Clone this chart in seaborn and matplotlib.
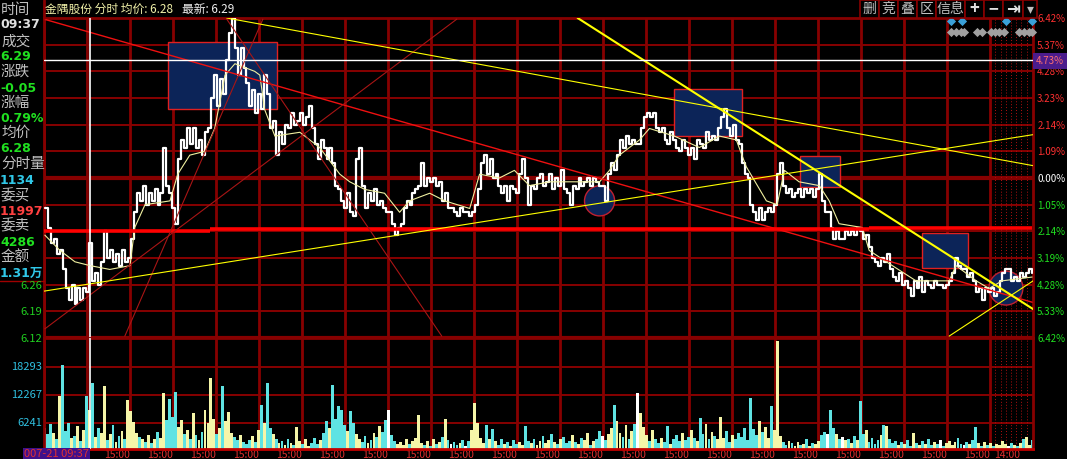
import numpy as np
import pandas as pd
import seaborn as sns
import matplotlib.pyplot as plt
from matplotlib.patches import Rectangle, Ellipse
from matplotlib.lines import Line2D

# ============================================================
# Data (price in yuan, volume in lots)
# ============================================================

# tick-by-tick price, evenly spaced over 23 trading sessions
price = [
    6.46, 6.41, 6.37, 6.38, 6.34, 6.35, 6.30, 6.25, 6.22, 6.26,
    6.21, 6.25, 6.22, 6.25, 6.24, 6.37, 6.27, 6.29, 6.26, 6.32,
    6.40, 6.33, 6.35, 6.32, 6.34, 6.31, 6.35, 6.32, 6.33, 6.38,
    6.45, 6.50, 6.48, 6.52, 6.47, 6.50, 6.48, 6.51, 6.47, 6.50,
    6.62, 6.52, 6.50, 6.46, 6.42, 6.59, 6.64, 6.62, 6.67, 6.63,
    6.67, 6.62, 6.64, 6.60, 6.66, 6.67, 6.75, 6.81, 6.73, 6.80,
    6.76, 6.85, 6.92, 6.96, 6.88, 6.81, 6.88, 6.83, 6.79, 6.73,
    6.77, 6.71, 6.76, 6.72, 6.81, 6.76, 6.67, 6.69, 6.60, 6.66,
    6.63, 6.68, 6.67, 6.71, 6.68, 6.69, 6.71, 6.68, 6.70, 6.73,
    6.67, 6.63, 6.59, 6.64, 6.62, 6.59, 6.62, 6.58, 6.52, 6.51,
    6.48, 6.46, 6.50, 6.45, 6.44, 6.59, 6.62, 6.52, 6.46, 6.50,
    6.48, 6.51, 6.47, 6.48, 6.46, 6.45, 6.45, 6.42, 6.39, 6.41,
    6.42, 6.46, 6.48, 6.47, 6.50, 6.51, 6.52, 6.58, 6.52, 6.54,
    6.53, 6.54, 6.52, 6.53, 6.48, 6.50, 6.46, 6.46, 6.45, 6.44,
    6.46, 6.45, 6.45, 6.44, 6.45, 6.47, 6.51, 6.58, 6.60, 6.55,
    6.59, 6.54, 6.55, 6.52, 6.50, 6.52, 6.48, 6.52, 6.51, 6.50,
    6.55, 6.59, 6.54, 6.47, 6.52, 6.51, 6.54, 6.55, 6.52, 6.53,
    6.55, 6.51, 6.54, 6.52, 6.56, 6.51, 6.50, 6.47, 6.52, 6.51,
    6.54, 6.52, 6.53, 6.54, 6.52, 6.54, 6.53, 6.52, 6.52, 6.48,
    6.55, 6.58, 6.56, 6.60, 6.64, 6.62, 6.65, 6.63, 6.64, 6.63,
    6.63, 6.67, 6.70, 6.71, 6.70, 6.71, 6.67, 6.66, 6.67, 6.64,
    6.63, 6.66, 6.64, 6.62, 6.61, 6.64, 6.62, 6.60, 6.62, 6.59,
    6.64, 6.63, 6.62, 6.66, 6.64, 6.65, 6.64, 6.67, 6.70, 6.72,
    6.67, 6.65, 6.68, 6.64, 6.63, 6.58, 6.55, 6.54, 6.47, 6.45,
    6.43, 6.46, 6.43, 6.45, 6.46, 6.45, 6.47, 6.55, 6.58, 6.52,
    6.50, 6.51, 6.49, 6.50, 6.51, 6.49, 6.51, 6.50, 6.51, 6.49,
    6.51, 6.55, 6.48, 6.45, 6.45, 6.41, 6.38, 6.40, 6.38, 6.38,
    6.40, 6.39, 6.40, 6.39, 6.41, 6.40, 6.38, 6.39, 6.36, 6.33,
    6.32, 6.31, 6.33, 6.32, 6.34, 6.30, 6.28, 6.27, 6.29, 6.26,
    6.27, 6.25, 6.23, 6.27, 6.25, 6.28, 6.24, 6.27, 6.26, 6.25,
    6.27, 6.26, 6.26, 6.25, 6.26, 6.27, 6.29, 6.33, 6.31, 6.30,
    6.30, 6.28, 6.29, 6.27, 6.24, 6.25, 6.22, 6.25, 6.24, 6.25,
    6.23, 6.24, 6.27, 6.29, 6.30, 6.30, 6.27, 6.28, 6.27, 6.29,
    6.28, 6.29, 6.30, 6.29,
]

volume = [
    5200, 3800, 6100, 4200, 2800, 12000, 18700, 4500, 6200, 3100,
    3500, 5600, 2400, 4800, 12000, 9000, 14800, 3200, 5100, 4000,
    14200, 2600, 3900, 5800, 2100, 3400, 4600, 2900, 11200, 8800,
    6500, 4100, 3300, 2700, 2200, 3600, 1900, 2800, 4300, 3100,
    12700, 6800, 11400, 7600, 12900, 5400, 6900, 3800, 4700, 2900,
    8400, 3600, 2500, 4400, 9000, 6200, 15900, 7100, 3900, 5200,
    14200, 6600, 8600, 4100, 3200, 2500, 3700, 2200, 1800, 2600,
    3400, 2100, 4800, 10100, 6300, 14800, 5200, 3900, 2700, 1900,
    2400, 1600, 2900, 2000, 1500, 5400, 2300, 1700, 2800, 1400,
    2000, 3100, 1800, 2500, 4200, 6600, 5100, 14400, 7200, 9900,
    9000, 5800, 4600, 8800, 6300, 3900, 2800, 2100, 3500, 1900,
    2600, 4100, 3300, 5700, 4400, 6800, 9000, 3600, 2400, 1800,
    2200, 1500, 2900, 1700, 2400, 3100, 8000, 2000, 1600, 2300,
    1400, 2700, 1800, 2100, 3300, 7100, 2500, 1700, 2200, 1500,
    1900, 2600, 1300, 2400, 4800, 10500, 6200, 3100, 2000, 5800,
    2700, 5000, 2300, 1600, 2900, 1800, 2200, 1400, 2600, 1700,
    2100, 1500, 5600, 2400, 1900, 2800, 1600, 2300, 3500, 2000,
    2600, 3800, 2200, 1700, 2900, 3200, 1900, 2400, 3700, 2100,
    1800, 3000, 2500, 4200, 1600, 2300, 2800, 4600, 3400, 2600,
    3900, 5200, 10100, 6700, 4100, 3300, 5800, 2900, 4500, 6100,
    12700, 8400, 5300, 3600, 2400, 4800, 2700, 1900, 3100, 2200,
    5600, 1800, 2900, 3600, 2300, 4100, 2600, 3300, 4700, 3000,
    2400, 7300, 3800, 6000, 2900, 4400, 3500, 2700, 7500, 3100,
    4600, 2200, 3700, 2800, 4200, 3300, 5100, 2600, 11600, 4900,
    3600, 6700, 4300, 5400, 3000, 9900, 4700, 23800, 3400, 2100,
    1600, 2400, 1900, 1300, 2200, 1500, 1800, 2700, 1400, 2000,
    1700, 2300, 3600, 4400, 3900, 9000, 5100, 3800, 2700, 3300,
    2500, 2900, 2000, 3400, 2600, 11000, 3800, 4800, 2200, 3100,
    1800, 2500, 3700, 5800, 5500, 2800, 1900, 2400, 1500, 2200,
    1700, 2600, 1400, 4200, 2000, 1600, 2300, 1800, 2900, 1500,
    2100, 1700, 2500, 1300, 1900, 2400, 1600, 2200, 3000, 1800,
    1500, 2200, 1700, 2600, 5400, 1900, 1400, 2100, 1600, 2000,
    1300, 1800, 1500, 2300, 1700, 1200, 2000, 1600, 1400, 1900,
    2800, 3300, 1500, 2600,
]

# running average price (session, price)
avg_x = [0.02, 0.37, 0.72, 1.07, 1.53, 2.00, 2.11, 2.35, 2.93, 3.11,
         3.39, 3.74, 3.97, 4.21, 4.44, 4.90, 5.02, 5.13, 5.37, 5.95,
         6.41, 6.88, 7.11, 7.46, 7.92, 8.27, 8.50, 8.97, 9.32, 9.90,
         10.13, 10.59, 10.94, 11.29, 11.76, 12.92, 13.15, 13.38, 13.85, 14.08,
         14.66, 15.24, 15.71, 16.10, 16.33, 16.80, 17.05, 17.22, 17.56, 18.03,
         18.26, 18.49, 19.03, 19.19, 19.59, 20.28, 21.05, 21.21, 21.68, 21.98,
         22.28, 22.98]
avg_price = [6.39, 6.35, 6.32, 6.31, 6.30, 6.31, 6.41, 6.47, 6.48, 6.55,
             6.60, 6.61, 6.67, 6.81, 6.84, 6.82, 6.81, 6.72, 6.65, 6.66,
             6.62, 6.55, 6.53, 6.51, 6.50, 6.45, 6.48, 6.50, 6.48, 6.46,
             6.55, 6.54, 6.56, 6.52, 6.53, 6.53, 6.56, 6.60, 6.64, 6.67,
             6.65, 6.62, 6.65, 6.64, 6.57, 6.48, 6.47, 6.56, 6.53, 6.52,
             6.48, 6.42, 6.41, 6.35, 6.32, 6.27, 6.27, 6.31, 6.27, 6.25,
             6.27, 6.28]

prev_close = 6.54
cursor_x, cursor_price = 1.07, 6.85
price_levels = [6.12, 6.19, 6.26, 6.33, 6.40, 6.47, 6.54, 6.61, 6.68, 6.75, 6.82, 6.89, 6.96]
pct_labels = ["6.42%", "5.33%", "4.28%", "3.19%", "2.14%", "1.05%", "0.00%",
              "1.09%", "2.14%", "3.23%", "4.28%", "5.37%", "6.42%"]
left_price_labels = ["6.26", "6.19", "6.12"]
vol_levels = [6241, 12267, 18293]
session_ticks = list(range(2, 23)) + [22.7]
time_labels = ["15:00"] * 21 + ["14:00"]
last_day_dots = [22.12, 22.26, 22.38, 22.49, 22.61, 22.73, 22.87]

# left info panel: (text, kind)
info_rows = [("时间", "name"), ("09:37", "time"), ("成交", "name"), ("6.29", "green"),
             ("涨跌", "name"), ("-0.05", "green"), ("涨幅", "name"), ("0.79%", "green"),
             ("均价", "name"), ("6.28", "green"), ("分时量", "name"), ("1134", "cyan"),
             ("委买", "name"), ("11997", "red"), ("委卖", "name"), ("4286", "green"),
             ("金额", "name"), ("1.31万", "cyan")]

# user drawings on the chart (session, price)
boxes = [(2.88, 5.41, 6.721, 6.897), (14.64, 16.24, 6.650, 6.774),
         (17.59, 18.52, 6.516, 6.598), (20.42, 21.49, 6.304, 6.396)]
circles = [(12.92, 6.480, 0.70, 0.079), (22.37, 6.251, 0.79, 0.089)]
red_trend = ([0.0, 22.98], [6.957, 6.214])
support = [([0.0, 3.86], [6.402, 6.402]), ([3.86, 19.19], [6.405, 6.405]),
           ([19.19, 22.98], [6.410, 6.410])]
thin_red = [([0.02, 9.60], [6.144, 6.957]), ([1.88, 5.09], [6.125, 6.957]),
            ([4.25, 9.25], [6.957, 6.125])]
yellow_thin = [([4.25, 23.07], [6.960, 6.571]), ([0.0, 23.07], [6.243, 6.655]),
               ([21.05, 23.07], [6.125, 6.275])]
yellow_thick = ([12.41, 23.07], [6.960, 6.191])
blue_marks = [21.10, 21.35, 22.37, 22.98]
gray_marks = [21.10, 21.21, 21.33, 21.40, 21.70, 21.82, 22.03, 22.12,
              22.21, 22.33, 22.68, 22.79, 22.91, 22.98]

# ============================================================
# Figure
# ============================================================
sns.set_theme(style="dark", rc={"axes.facecolor": "black", "figure.facecolor": "black"})
plt.rcParams['font.family'] = ['Noto Sans CJK SC', 'DejaVu Sans']

W, H = 1067, 459
GRID = '#870000'
fig = plt.figure(figsize=(W / 100, H / 100), dpi=100)
fig.patch.set_facecolor('black')


def fx(x):
    return x / W


def fy(y):
    return 1 - y / H


ax = fig.add_axes([fx(44), fy(338), 989 / W, 320 / H])
axv = fig.add_axes([fx(44), fy(449), 989 / W, 111 / H])
for a in (ax, axv):
    a.set_facecolor('black')
    a.set_xlim(0, 23)
    a.grid(False)
    for s in a.spines.values():
        s.set_color(GRID)
        s.set_linewidth(2)
        s.set_visible(True)

ax.set_ylim(6.12, 6.96)
axv.set_ylim(650, 24535)

# grid
for lv in price_levels:
    lw = 3 if lv in (prev_close, 6.12) else 1.4
    ax.axhline(lv, color=GRID, lw=lw, zorder=1)
for lv in vol_levels:
    axv.axhline(lv, color=GRID, lw=1.4, zorder=1)
for a in (ax, axv):
    for s in range(0, 23):
        a.axvline(s, color=GRID, lw=2, zorder=1)
    for d in last_day_dots:
        a.axvline(d, color='#b01010', lw=0.7, ls=(0, (1, 2)), zorder=1)

# boxes and circles drawn under the price
for x0, x1, y0, y1 in boxes:
    ax.add_patch(Rectangle((x0, y0), x1 - x0, y1 - y0, facecolor='#0c2458',
                           edgecolor='#e02020', lw=1, zorder=2))
for cx, cy, w, h in circles:
    ax.add_patch(Ellipse((cx, cy), w, h, facecolor='#0c2458',
                         edgecolor='#c02030', lw=1, zorder=2))

# price and average
t = np.linspace(0.02, 22.98, len(price))
df = pd.DataFrame({"t": t, "price": price, "volume": volume})
sns.lineplot(data=df, x="t", y="price", ax=ax, color='white', lw=1.6,
             drawstyle='steps-post', estimator=None, sort=False, zorder=3)
sns.lineplot(x=avg_x, y=avg_price, ax=ax, color='#f0f0a0', lw=0.8,
             estimator=None, sort=False, zorder=3)

# drawings on top
ax.plot(*red_trend, color='#ee1010', lw=1.0, zorder=4)
for xs, ys in support:
    ax.plot(xs, ys, color='#ff0000', lw=2.6, zorder=4, solid_capstyle='butt')
for xs, ys in thin_red:
    ax.plot(xs, ys, color='#a81515', lw=0.8, zorder=4)
for xs, ys in yellow_thin:
    ax.plot(xs, ys, color='#ffff00', lw=0.8, zorder=4)
ax.plot(*yellow_thick, color='#ffff00', lw=1.5, zorder=4)

# event diamonds
ax.scatter(gray_marks, [6.923] * len(gray_marks), marker='D', s=22,
           color='#a0a0a0', lw=0, zorder=5, clip_on=False)
ax.scatter(blue_marks, [6.952] * len(blue_marks), marker='D', s=22,
           color='#3aa0d8', lw=0, zorder=5, clip_on=False)

# crosshair
ax.axhline(cursor_price, color='white', lw=1, zorder=5)
for a in (ax, axv):
    a.axvline(cursor_x, color='white', lw=1.2, zorder=5)

# volume bars coloured by tick direction
diff = np.diff(np.array(price), prepend=price[0])
vcol = np.where(diff > 0, '#f5f5a8', np.where(diff < 0, '#5fe3e3', '#ffffff'))
axv.bar(df["t"], df["volume"], width=0.066, color=vcol, lw=0, zorder=2)
axv.spines['bottom'].set_color('#c00000')

# axes labels / ticks
ax.set_xlabel("")
ax.set_ylabel("")
ax.set_xticks([])
ax.set_yticks(price_levels)
ax.set_yticklabels(pct_labels)
ax.tick_params(axis='y', length=0, pad=3, labelsize=7, labelright=True, labelleft=False)
for i, lab in enumerate(ax.get_yticklabels()):
    lab.set_color('#20e020' if i < 6 else ('white' if i == 6 else '#ff3030'))

axv.set_yticks([])
axv.set_xticks(session_ticks)
axv.set_xticklabels(time_labels)
axv.tick_params(axis='x', length=0, pad=1, labelsize=7.5, colors='#e03030')
for lab in axv.get_xticklabels():
    lab.set_ha('right')

# cursor value on the right axis
fig.text(fx(1036), fy(61), "4.73%", color='#ff7070', fontsize=7, va='center', ha='left',
         bbox=dict(facecolor='#4b1c8c', edgecolor='none', pad=2))

# left price / volume labels
for lv, s in zip([6.26, 6.19, 6.12], left_price_labels):
    y_px = 179 - (lv - prev_close) / 0.07 * 26.67
    fig.text(fx(42), fy(y_px), s, color='#20d020', fontsize=8, ha='right', va='center')
for lv in vol_levels:
    y_px = 452 - lv / 6026 * 28
    fig.text(fx(42), fy(y_px), str(lv), color='#30c0e0', fontsize=8, ha='right', va='center')

# info panel
colors = {"name": '#c0c0c0', "time": '#e0e0e0', "green": '#20e020',
          "cyan": '#30c8e8', "red": '#ff4040'}
row_y = [10, 25, 42, 57, 72, 88, 103, 118, 133, 148, 164, 180, 196, 211, 226, 242, 257, 273]
for (txt, kind), yy in zip(info_rows, row_y):
    if kind == "name":
        fig.text(fx(1), fy(yy), txt, color=colors[kind], fontsize=10.5, va='center', ha='left')
    else:
        fig.text(fx(0), fy(yy), txt, color=colors[kind], fontsize=9, va='center',
                 ha='left', fontweight='bold', family=['DejaVu Sans', 'Noto Sans CJK SC'])
fig.add_artist(Line2D([0, fx(44)], [fy(281), fy(281)], color='#a00000', lw=1))
fig.add_artist(Line2D([fx(44), fx(44)], [fy(0), fy(18)], color=GRID, lw=2))

# title
fig.text(fx(45), fy(9), "金隅股份 分时 均价: 6.28", color='#f0f0a8', fontsize=8.5, va='center')
fig.text(fx(182), fy(9), "最新: 6.29", color='#f0f0f0', fontsize=8.5, va='center')

# toolbar buttons
buttons = [("删", 860, 879), ("竞", 879, 898), ("叠", 898, 917), ("区", 917, 936),
           ("信息", 936, 965), ("+", 965, 984), ("−", 984, 1003), ("⇥", 1003, 1023),
           ("▾", 1023, 1037)]
for txt, x0, x1 in buttons:
    fig.add_artist(Rectangle((fx(x0), fy(18)), (x1 - x0) / W, 18 / H, transform=fig.transFigure,
                             facecolor='black', edgecolor=GRID, lw=1.2))
    bold = txt in ("+", "−", "⇥")
    fig.text(fx((x0 + x1) / 2), fy(9), txt, color='#e0e0e0' if bold else '#c0c0c0',
             fontsize=12 if bold else 10, fontweight='bold' if bold else 'normal',
             ha='center', va='center')

# bottom-left date box
fig.add_artist(Rectangle((fx(23), 0), 67 / W, 11 / H, transform=fig.transFigure,
                         facecolor='#40108a', edgecolor='none'))
fig.text(fx(89), fy(454), "007-21 09:37", color='#e03030', fontsize=8, ha='right', va='center')

fig.savefig("out.png", dpi=100, facecolor='black')
